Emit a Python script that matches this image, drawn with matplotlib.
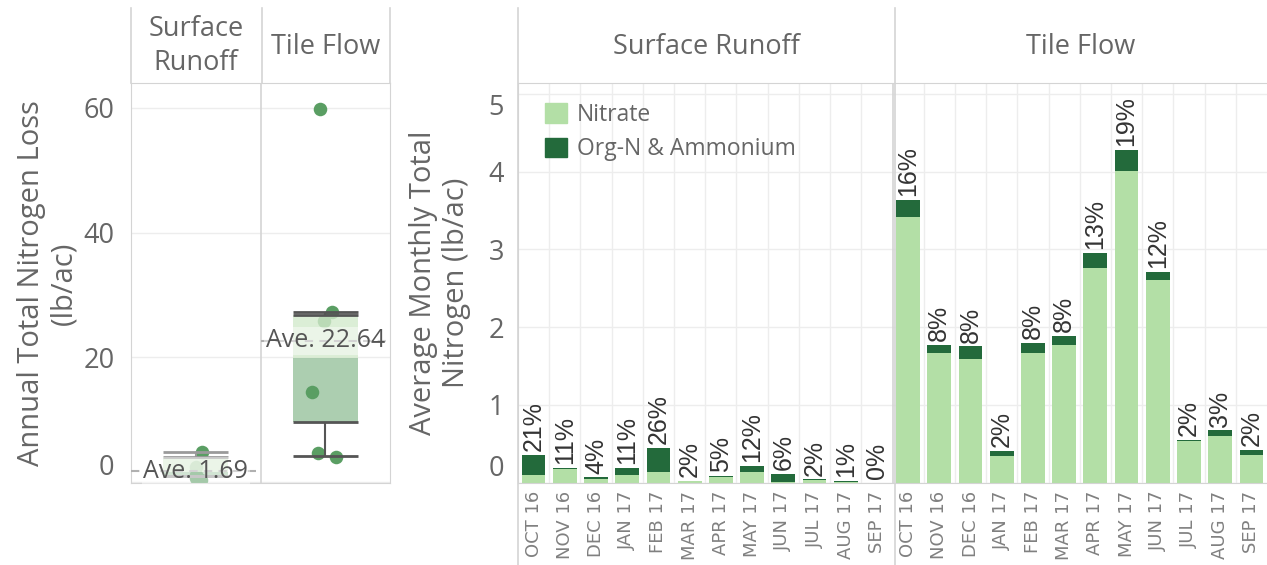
import numpy as np
import matplotlib.pyplot as plt
from matplotlib.lines import Line2D
from matplotlib.patches import Patch

plt.rcParams['font.family'] = ['Open Sans', 'DejaVu Sans']

# ---- data ----
flow_paths = ['Surface Runoff', 'Tile Flow']
months = ['OCT 16', 'NOV 16', 'DEC 16', 'JAN 17', 'FEB 17', 'MAR 17',
          'APR 17', 'MAY 17', 'JUN 17', 'JUL 17', 'AUG 17', 'SEP 17']

# average monthly total nitrogen (lb/ac)
sr_nitrate = [0.10, 0.17, 0.04, 0.10, 0.14, 0.025, 0.07, 0.13, 0.005, 0.03, 0.005, 0.0]
sr_org = [0.25, 0.02, 0.025, 0.09, 0.31, 0.0, 0.02, 0.08, 0.105, 0.01, 0.02, 0.0]
tf_nitrate = [3.41, 1.66, 1.59, 0.34, 1.66, 1.77, 2.76, 4.01, 2.60, 0.53, 0.60, 0.35]
tf_org = [0.23, 0.11, 0.16, 0.07, 0.13, 0.11, 0.19, 0.27, 0.11, 0.02, 0.07, 0.07]
sr_pct = ['21%', '11%', '4%', '11%', '26%', '2%', '5%', '12%', '6%', '2%', '1%', '0%']
tf_pct = ['16%', '8%', '8%', '2%', '8%', '8%', '13%', '19%', '12%', '2%', '3%', '2%']

# annual total nitrogen loss (lb/ac), one point per year
sr_annual = [4.8, 2.4, 1.1, 0.9, 0.6, 0.34]
tf_annual = [59.8, 27.3, 25.8, 14.4, 4.6, 3.94]
sr_jitter = [0.05, 0.0, 0.0, 0.0, 0.0, 0.04]
tf_jitter = [-0.04, 0.055, -0.01, -0.1, -0.055, 0.085]

# box plot stats as drawn
whis_lo = [0.9, 4.1]
q1 = [1.0, 9.6]
med = [1.6, 19.8]
q3 = [3.9, 26.8]
whis_hi = [4.7, 27.3]

# ---- style ----
light = '#b3dfa6'
dark = '#236a3b'
point_green = '#5a9e63'
border = '#d4d4d4'
grid = '#ededed'
txt = '#666666'
FS = 19.5

W, H = 1267, 565
fig = plt.figure(figsize=(W / 100, H / 100), dpi=100)


def fx(px):
    return px / W


def fy(py):
    return 1 - py / H


# ---------------- left: annual box plot ----------------
ax1 = fig.add_axes([fx(131), fy(483), fx(390) - fx(131), fy(83) - fy(483)])
ax1.set_xlim(-0.5, 1.5)
ax1.set_ylim(-0.2, 64)
ax1.set_xticks([])
ax1.set_yticks([0, 20, 40, 60], labels=['0', '20', '40', '60'])
for lab in ax1.get_yticklabels():
    if lab.get_text() == '0':
        lab.set_verticalalignment('bottom')
ax1.tick_params(axis='y', length=0, pad=12, labelsize=FS, labelcolor=txt)
ax1.yaxis.grid(True, color=grid, lw=1)
ax1.set_axisbelow(True)
for s in ax1.spines.values():
    s.set_color(border)
ax1.axvline(0.5, color=border, lw=1.2)

for i, (pts, jit) in enumerate([(sr_annual, sr_jitter), (tf_annual, tf_jitter)]):
    ax1.scatter(np.array(jit) + i, pts, s=95, color=point_green, lw=0, zorder=2)
    lc = '#9a9a9a' if i == 0 else '#555555'
    ax1.bar(i, med[i] - q1[i], bottom=q1[i], width=0.5, color=point_green,
            alpha=0.5, zorder=3)
    ax1.bar(i, q3[i] - med[i], bottom=med[i], width=0.5, color='#d3eacc',
            alpha=0.8, zorder=3)
    ax1.hlines([whis_lo[i], q1[i], q3[i], whis_hi[i]], i - 0.25, i + 0.25,
               color=lc, lw=2, zorder=4)
    ax1.vlines(i, whis_lo[i], q1[i], color=lc, lw=1.5, zorder=4)
    ax1.vlines(i, q3[i], whis_hi[i], color=lc, lw=1.5, zorder=4)
    mean = np.mean(pts)
    ax1.hlines(mean, i - 0.5, i + 0.5, color='#b0b0b0', lw=1.5,
               linestyles=(0, (4, 3)), zorder=4)
    ax1.text(i, mean, f'Ave. {mean:.2f}', ha='center', va='center',
             fontsize=18, color='#555555', zorder=5,
             bbox=dict(facecolor='white', alpha=0.45, edgecolor='none', pad=1))

ax1.set_ylabel('Annual Total Nitrogen Loss\n(lb/ac)', fontsize=21,
               color=txt, va='center', linespacing=1.15)
ax1.yaxis.set_label_coords(-0.32, 0.5)

# ---------------- right: monthly stacked bars ----------------
ax2 = fig.add_axes([fx(518), fy(482.5), fx(1267) - fx(518), fy(83) - fy(482.5)])
x = np.arange(24)
nitrate = np.array(sr_nitrate + tf_nitrate)
org = np.array(sr_org + tf_org)
ax2.bar(x, nitrate, width=0.76, color=light, zorder=2, label='Nitrate')
ax2.bar(x, org, bottom=nitrate, width=0.76, color=dark, zorder=2,
        label='Org-N & Ammonium')
for xi, top, lab in zip(x, nitrate + org, sr_pct + tf_pct):
    ax2.text(xi, top + 0.05, lab, rotation=90, ha='center', va='bottom',
             fontsize=18, family='Liberation Sans', color='#333333')

ax2.set_xlim(-0.5, 23.5)
ax2.set_ylim(0, 5.14)
ax2.set_xticks(x, months * 2, rotation=90)
ax2.tick_params(axis='x', length=0, pad=6, labelsize=13, labelcolor='#808080')
for lab in ax2.get_xticklabels():
    lab.set_family('DejaVu Sans')
ax2.set_yticks(range(6), labels=[str(v) for v in range(6)])
for lab in ax2.get_yticklabels():
    if lab.get_text() == '0':
        lab.set_verticalalignment('bottom')
    elif lab.get_text() == '5':
        lab.set_verticalalignment('top')
ax2.tick_params(axis='y', length=0, pad=10, labelsize=FS, labelcolor=txt)
ax2.yaxis.grid(True, color=grid, lw=1)
ax2.set_axisbelow(True)
ax2.vlines([v + 0.5 for v in range(23) if v != 11], 0, 5.14, color=grid,
           lw=1, zorder=0)
ax2.axvline(11.5, color=border, lw=1.2)
for s in ax2.spines.values():
    s.set_color(border)
ax2.spines['right'].set_visible(False)

ax2.set_ylabel('Average Monthly Total\nNitrogen (lb/ac)', fontsize=21,
               color=txt, va='center', linespacing=1.15)
ax2.yaxis.set_label_coords(-0.104, 0.5)

ax2.legend(handles=[Patch(color=light, label='Nitrate'),
                    Patch(color=dark, label='Org-N & Ammonium')],
           loc='upper left', bbox_to_anchor=(0.036, 0.95), frameon=False,
           fontsize=16.5, handlelength=0.95, handleheight=0.95,
           handletextpad=0.45, labelspacing=0.45, borderpad=0,
           borderaxespad=0, labelcolor=txt)

# ---------------- header strips ----------------
for xp in [131, 262, 390]:
    fig.add_artist(Line2D([fx(xp)] * 2, [fy(8), fy(83)], color=border, lw=1.2))
for xp in [518, 895]:
    fig.add_artist(Line2D([fx(xp)] * 2, [fy(8), fy(565)], color=border, lw=1.2))

fig.text(fx(196), fy(46), 'Surface\nRunoff', ha='center', va='center',
         fontsize=FS, color=txt, linespacing=1.25)
fig.text(fx(326), fy(47), flow_paths[1], ha='center', va='center',
         fontsize=FS, color=txt)
fig.text(fx(706), fy(47), flow_paths[0], ha='center', va='center',
         fontsize=FS, color=txt)
fig.text(fx(1081), fy(47), flow_paths[1], ha='center', va='center',
         fontsize=FS, color=txt)

fig.savefig('out.png', dpi=100)
